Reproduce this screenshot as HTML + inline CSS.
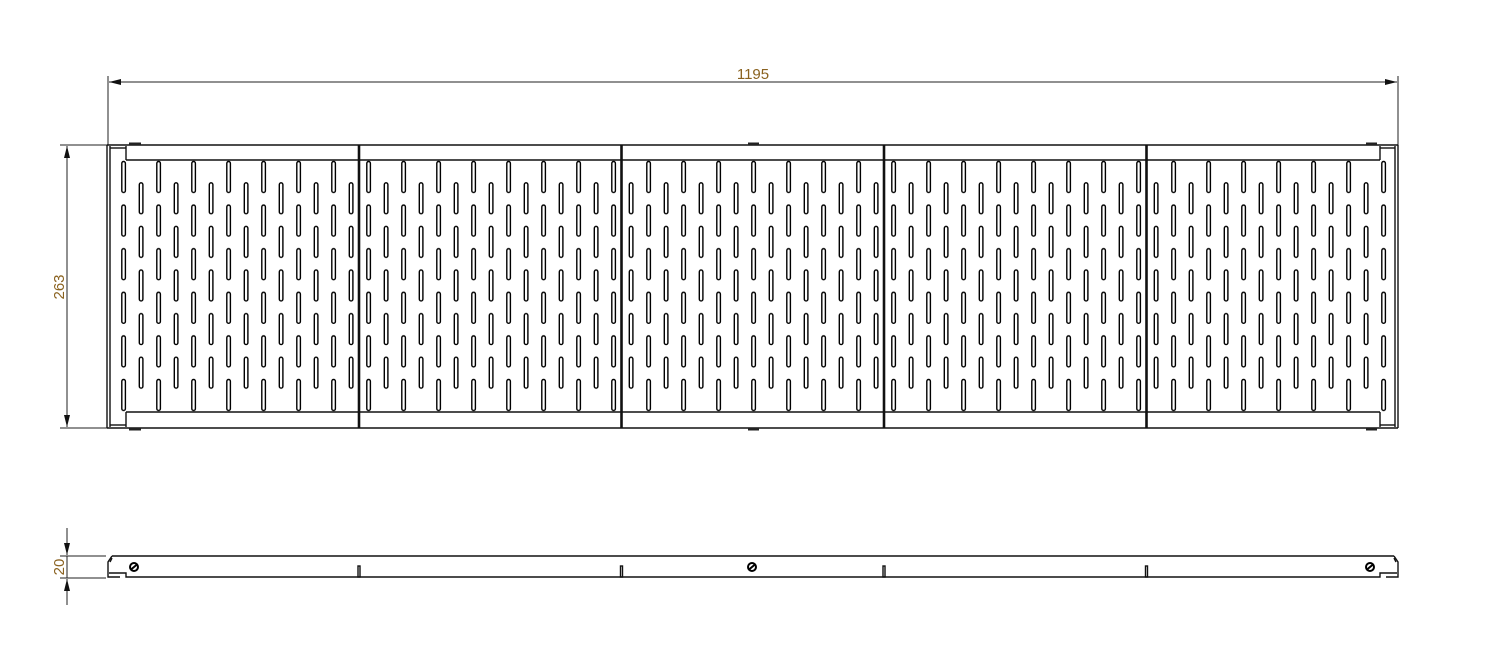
<!DOCTYPE html>
<html><head><meta charset="utf-8"><style>
html,body{margin:0;padding:0;background:#fff;}
svg{display:block;}
text{font-family:"Liberation Sans",sans-serif;fill:#8a6220;font-size:15px;}
</style></head><body>
<svg width="1492" height="657" viewBox="0 0 1492 657" xmlns="http://www.w3.org/2000/svg">
<defs>
<pattern id="pA" patternUnits="userSpaceOnUse" x="121" y="160" width="35" height="43.6">
<rect x="0.8" y="1.5" width="3.6" height="31" rx="1.8" fill="#fff" stroke="#000" stroke-width="1.4"/>
</pattern>
<pattern id="pB" patternUnits="userSpaceOnUse" x="138.5" y="182" width="35" height="43.6">
<rect x="0.8" y="0.8" width="3.6" height="31" rx="1.8" fill="#fff" stroke="#000" stroke-width="1.4"/>
</pattern>
<marker id="ar" viewBox="0 0 12 6" refX="12" refY="3" markerWidth="12" markerHeight="6" orient="auto-start-reverse" markerUnits="userSpaceOnUse">
<path d="M0,0 L12,3 L0,6 z" fill="#111"/>
</marker>
</defs>

<g stroke="#222" stroke-width="1" fill="none">
<line x1="108" y1="76" x2="108" y2="145"/>
<line x1="1398" y1="76" x2="1398" y2="145"/>
<line x1="109" y1="82" x2="1397" y2="82" marker-start="url(#ar)" marker-end="url(#ar)"/>
<line x1="60" y1="145" x2="108" y2="145"/>
<line x1="60" y1="428" x2="108" y2="428"/>
<line x1="67" y1="146" x2="67" y2="427" marker-start="url(#ar)" marker-end="url(#ar)"/>
</g>
<text x="753" y="79" text-anchor="middle">1195</text>
<text transform="translate(64,287) rotate(-90)" text-anchor="middle">263</text>

<rect x="121" y="160" width="1266" height="252" fill="url(#pA)"/>
<rect x="138.5" y="182" width="1232" height="208" fill="url(#pB)"/>

<g stroke="#111" stroke-width="1.4" fill="none">
<line x1="107" y1="145" x2="1398" y2="145"/>
<line x1="107" y1="428" x2="1398" y2="428"/>
<line x1="107" y1="145" x2="107" y2="428"/>
<line x1="110" y1="146" x2="110" y2="427"/>
<line x1="1398" y1="145" x2="1398" y2="428"/>
<line x1="1395" y1="146" x2="1395" y2="427"/>
<line x1="1380" y1="146" x2="1380" y2="160"/>
<line x1="1380" y1="412" x2="1380" y2="427"/>
<line x1="126" y1="146" x2="126" y2="160"/>
<line x1="126" y1="412" x2="126" y2="427"/>
<line x1="126" y1="160" x2="1380" y2="160"/>
<line x1="126" y1="412" x2="1380" y2="412"/>
<line x1="110" y1="148" x2="126" y2="148"/>
<line x1="110" y1="425" x2="126" y2="425"/>
<line x1="1380" y1="148" x2="1395" y2="148"/>
<line x1="1380" y1="425" x2="1395" y2="425"/>
</g>
<g stroke="#111" stroke-width="2.6">
<line x1="359" y1="145" x2="359" y2="428"/>
<line x1="621.5" y1="145" x2="621.5" y2="428"/>
<line x1="884" y1="145" x2="884" y2="428"/>
<line x1="1146.5" y1="145" x2="1146.5" y2="428"/>
</g>
<g fill="#222">
<rect x="129" y="142.5" width="12" height="2.5"/>
<rect x="748" y="142.5" width="11" height="2.5"/>
<rect x="1366" y="142.5" width="11" height="2.5"/>
<rect x="129" y="428" width="12" height="2.5"/>
<rect x="748" y="428" width="11" height="2.5"/>
<rect x="1366" y="428" width="11" height="2.5"/>
</g>

<g stroke="#222" stroke-width="1" fill="none">
<line x1="60" y1="556" x2="106" y2="556"/>
<line x1="60" y1="578" x2="106" y2="578"/>
<line x1="67" y1="528" x2="67" y2="555" marker-end="url(#ar)"/>
<line x1="67" y1="605" x2="67" y2="579" marker-end="url(#ar)"/>
<line x1="67" y1="556" x2="67" y2="578"/>
</g>
<text transform="translate(64,567) rotate(-90)" text-anchor="middle">20</text>

<g stroke="#111" stroke-width="1.4" fill="none">
<path d="M112,556 L1394,556"/>
<path d="M112,556 L108,562 L108,577 L120,577"/>
<path d="M109,573 L126,573 L126,577 L1380,577 L1380,573 L1397,573"/>
<path d="M1386,577 L1398,577 L1398,562 L1394,556"/>
<path d="M110,562 L112,558"/>
<path d="M1396,562 L1394,558"/>
<rect x="358" y="566" width="2" height="11"/>
<rect x="620.5" y="566" width="2" height="11"/>
<rect x="883" y="566" width="2" height="11"/>
<rect x="1145.5" y="566" width="2" height="11"/>
</g>
<g stroke="#000" stroke-width="2" fill="none">
<circle cx="134" cy="567" r="4"/>
<circle cx="752" cy="567" r="4"/>
<circle cx="1370" cy="567" r="4"/>
<line x1="131" y1="569.5" x2="137" y2="564.5"/>
<line x1="749" y1="569.5" x2="755" y2="564.5"/>
<line x1="1367" y1="569.5" x2="1373" y2="564.5"/>
</g>
</svg>
</body></html>
